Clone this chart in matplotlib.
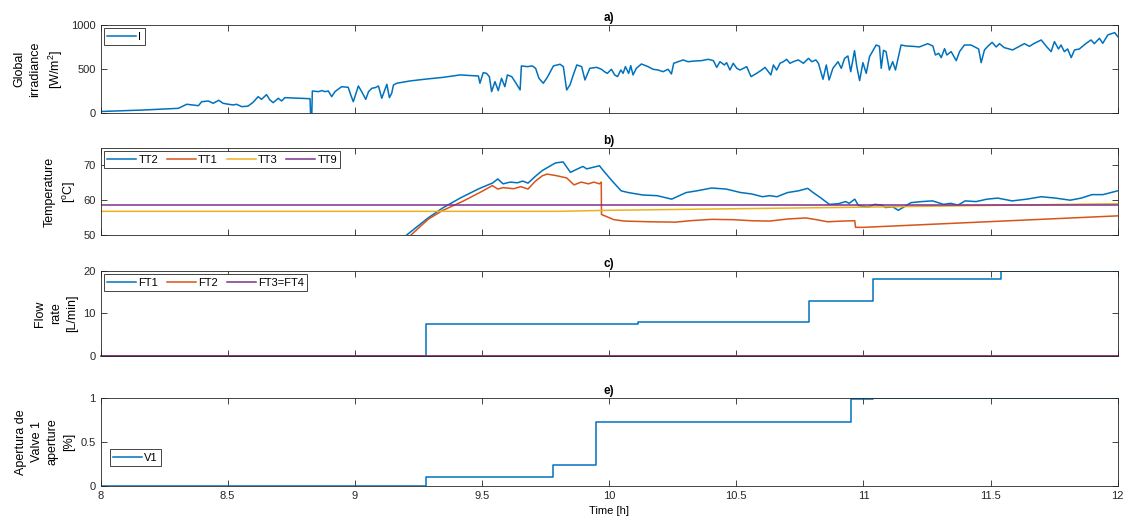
import numpy as np
import matplotlib
matplotlib.use('Agg')
import matplotlib.pyplot as plt

plt.rcParams['font.family'] = ['Liberation Sans', 'DejaVu Sans']
plt.rcParams['font.size'] = 8
plt.rcParams['mathtext.default'] = 'regular'

# colores por defecto de MATLAB
c_blue = '#0072BD'
c_orange = '#D95319'
c_yellow = '#EDB120'
c_purple = '#7E2F8E'

# a) irradiancia global
I_t = [8.000, 8.170, 8.306, 8.339, 8.385, 8.398, 8.424, 8.443, 8.465, 8.482,
       8.503, 8.522, 8.535, 8.555, 8.580, 8.600, 8.620, 8.633, 8.653, 8.666,
       8.679, 8.699, 8.712, 8.725, 8.824, 8.826, 8.831, 8.833, 8.857, 8.870,
       8.883, 8.896, 8.909, 8.922, 8.948, 8.974, 8.985, 8.994, 9.014, 9.027,
       9.043, 9.054, 9.067, 9.080, 9.093, 9.106, 9.119, 9.126, 9.136, 9.145,
       9.152, 9.165, 9.217, 9.283, 9.348, 9.414, 9.486, 9.492, 9.505, 9.518,
       9.529, 9.538, 9.551, 9.564, 9.577, 9.590, 9.600, 9.617, 9.630, 9.650,
       9.655, 9.679, 9.698, 9.711, 9.724, 9.741, 9.757, 9.781, 9.807, 9.820,
       9.833, 9.846, 9.859, 9.873, 9.892, 9.905, 9.924, 9.951, 9.970, 9.982,
       9.993, 10.009, 10.022, 10.033, 10.046, 10.055, 10.064, 10.077, 10.085, 10.094,
       10.107, 10.127, 10.153, 10.173, 10.192, 10.212, 10.232, 10.245, 10.254, 10.271,
       10.291, 10.310, 10.337, 10.363, 10.390, 10.410, 10.423, 10.436, 10.453, 10.462,
       10.475, 10.488, 10.502, 10.515, 10.528, 10.541, 10.558, 10.580, 10.600, 10.613,
       10.636, 10.646, 10.659, 10.672, 10.685, 10.698, 10.711, 10.724, 10.744, 10.764,
       10.784, 10.797, 10.813, 10.823, 10.841, 10.854, 10.865, 10.880, 10.900, 10.913,
       10.926, 10.939, 10.950, 10.965, 10.974, 10.985, 10.998, 11.011, 11.024, 11.050,
       11.063, 11.070, 11.079, 11.089, 11.102, 11.115, 11.126, 11.139, 11.148, 11.168,
       11.194, 11.220, 11.253, 11.273, 11.283, 11.296, 11.306, 11.319, 11.328, 11.345,
       11.365, 11.378, 11.397, 11.423, 11.453, 11.463, 11.476, 11.489, 11.506, 11.522,
       11.535, 11.554, 11.587, 11.613, 11.633, 11.653, 11.672, 11.699, 11.718, 11.738,
       11.751, 11.767, 11.777, 11.790, 11.803, 11.817, 11.830, 11.849, 11.876, 11.895,
       11.908, 11.928, 11.941, 11.961, 11.988, 12.000]
I_val = [20, 37, 56, 102, 86, 131, 139, 113, 147, 113,
         102, 94, 102, 75, 81, 124, 188, 158, 211, 151,
         120, 170, 139, 177, 165, 0, 0, 252, 245, 257,
         245, 252, 188, 245, 301, 294, 200, 131, 309, 245,
         158, 245, 283, 290, 309, 170, 272, 328, 177, 226,
         320, 340, 366, 388, 407, 434, 422, 340, 460, 452,
         415, 245, 358, 257, 396, 301, 434, 415, 358, 264,
         536, 528, 536, 509, 396, 340, 407, 536, 555, 528,
         264, 320, 434, 547, 528, 377, 509, 520, 498, 470,
         452, 498, 434, 415, 490, 452, 528, 452, 539, 434,
         509, 558, 528, 498, 490, 471, 498, 445, 566, 584,
         604, 584, 592, 596, 611, 596, 520, 584, 547, 573,
         490, 566, 509, 490, 509, 528, 415, 452, 490, 520,
         434, 547, 490, 566, 584, 611, 566, 584, 604, 566,
         622, 584, 604, 566, 385, 547, 377, 509, 584, 509,
         622, 649, 471, 709, 528, 370, 573, 452, 641, 773,
         758, 509, 713, 698, 490, 584, 490, 660, 773, 762,
         758, 751, 788, 762, 660, 679, 630, 732, 660, 698,
         596, 698, 773, 773, 728, 573, 717, 758, 803, 751,
         788, 743, 717, 758, 788, 758, 792, 830, 762, 698,
         811, 728, 773, 698, 728, 630, 717, 728, 792, 830,
         788, 849, 792, 887, 913, 868]

# b) temperaturas
TT2_t = [9.190, 9.204, 9.288, 9.344, 9.414, 9.485, 9.527, 9.541, 9.562, 9.583,
         9.611, 9.639, 9.660, 9.681, 9.709, 9.737, 9.765, 9.789, 9.819, 9.848,
         9.876, 9.897, 9.912, 9.940, 9.962, 9.976, 10.011, 10.047, 10.075, 10.132,
         10.189, 10.246, 10.303, 10.346, 10.403, 10.460, 10.517, 10.560, 10.603, 10.631,
         10.660, 10.702, 10.745, 10.781, 10.802, 10.830, 10.866, 10.902, 10.930, 10.944,
         10.966, 10.980, 11.016, 11.044, 11.073, 11.087, 11.115, 11.137, 11.158, 11.187,
         11.229, 11.272, 11.315, 11.343, 11.372, 11.400, 11.443, 11.486, 11.528, 11.585,
         11.642, 11.699, 11.756, 11.813, 11.856, 11.899, 11.942, 12.000]
TT2 = [49.0, 50.0, 54.9, 57.7, 60.6, 63.2, 64.5, 64.9, 66.1, 64.7,
       65.2, 65.0, 65.5, 64.9, 66.8, 68.5, 69.7, 70.7, 71.0, 68.0,
       69.0, 69.7, 69.0, 69.5, 69.9, 68.6, 65.6, 62.7, 62.2, 61.5,
       61.3, 60.3, 62.2, 62.7, 63.5, 63.2, 62.2, 61.8, 61.0, 61.3,
       61.0, 62.2, 62.7, 63.4, 62.2, 60.8, 58.8, 59.0, 59.6, 59.1,
       60.3, 58.5, 58.0, 58.8, 58.6, 57.9, 58.1, 57.1, 58.0, 59.3,
       59.6, 59.8, 58.8, 59.1, 58.6, 59.8, 59.6, 60.3, 60.6, 59.8,
       60.3, 61.0, 60.6, 60.0, 60.6, 61.6, 61.6, 62.7]
TT1_t = [9.205, 9.218, 9.288, 9.344, 9.428, 9.499, 9.541, 9.562, 9.583, 9.625,
         9.653, 9.681, 9.709, 9.737, 9.756, 9.789, 9.833, 9.862, 9.890, 9.919,
         9.940, 9.962, 9.969, 9.970, 10.019, 10.061, 10.161, 10.261, 10.318, 10.403,
         10.489, 10.560, 10.631, 10.702, 10.774, 10.816, 10.859, 10.916, 10.966, 10.969,
         11.001, 12.000]
TT1 = [49.0, 49.8, 54.5, 57.0, 59.8, 62.5, 64.2, 63.2, 63.6, 63.3,
       63.9, 63.2, 65.4, 67.0, 67.5, 67.1, 66.4, 64.4, 65.2, 64.7,
       65.2, 64.7, 65.2, 55.9, 54.4, 54.0, 53.8, 53.7, 54.1, 54.5,
       54.4, 54.1, 54.0, 54.6, 54.9, 54.4, 53.8, 54.0, 54.1, 52.2,
       52.2, 55.5]
TT3_t = [8.0, 9.8, 10.0, 11.0, 12.0]
TT3 = [56.8, 56.8, 57.1, 58.0, 59.0]
TT9_t = [8.0, 12.0]
TT9 = [58.5, 58.5]

# c) caudales
FT1_t = [8.0, 9.28, 10.115, 10.785, 11.037, 11.54, 12.0]
FT1 = [0.0, 7.45, 8.0, 12.9, 18.0, 20.0, 20.0]
FT2_t = [8.0, 12.0]
FT2 = [0.0, 0.0]
FT34_t = [8.0, 12.0]
FT34 = [0.0, 0.0]

# e) apertura valvula
V1_t = [8.0, 9.28, 9.78, 9.949, 10.953, 11.037, 12.0]
V1 = [0.0, 0.1, 0.233, 0.73, 0.99, 1.0, 1.0]

fig = plt.figure(figsize=(11.28, 5.22), dpi=100)
left = 0.0891
width = 0.9018
ax_a = fig.add_axes([left, 0.7830, width, 0.1692])
ax_b = fig.add_axes([left, 0.5498, width, 0.1667])
ax_c = fig.add_axes([left, 0.318, width, 0.163])
ax_e = fig.add_axes([left, 0.069, width, 0.1686])
axes = [ax_a, ax_b, ax_c, ax_e]

lw = 1.1
ls = 1.45  # interlineado de las etiquetas
yl = 9     # tamaño de las etiquetas del eje y

ax_a.plot(I_t, I_val, color=c_blue, lw=lw, label='I')
ax_a.set_ylim(0, 1000)
ax_a.set_yticks([0, 500, 1000])
ax_a.set_ylabel('Global\nirradiance\n[W/m$^2$]', linespacing=ls, fontsize=yl)
ax_a.set_title('a)', fontweight='bold', fontsize=8.5, pad=3)

ax_b.plot(TT2_t, TT2, color=c_blue, lw=lw, label='TT2')
ax_b.plot(TT1_t, TT1, color=c_orange, lw=lw, label='TT1')
ax_b.plot(TT3_t, TT3, color=c_yellow, lw=lw, label='TT3')
ax_b.plot(TT9_t, TT9, color=c_purple, lw=lw, label='TT9')
ax_b.set_ylim(50, 75)
ax_b.set_yticks([50, 60, 70])
ax_b.set_ylabel('Temperature\n[$^o$C]', linespacing=ls, fontsize=yl)
ax_b.set_title('b)', fontweight='bold', fontsize=8.5, pad=3)

ax_c.plot(FT1_t, FT1, color=c_blue, lw=lw, drawstyle='steps-post', label='FT1')
ax_c.plot(FT2_t, FT2, color=c_orange, lw=lw, label='FT2', clip_on=False)
ax_c.plot(FT34_t, FT34, color=c_purple, lw=lw, label='FT3=FT4', clip_on=False)
ax_c.set_ylim(0, 20)
ax_c.set_yticks([0, 10, 20])
ax_c.set_ylabel('Flow\nrate\n[L/min]', linespacing=ls, fontsize=yl)
ax_c.set_title('c)', fontweight='bold', fontsize=8.5, pad=3)

ax_e.plot(V1_t, V1, color=c_blue, lw=lw, drawstyle='steps-post', label='V1')
ax_e.set_ylim(0, 1)
ax_e.set_yticks([0, 0.5, 1])
ax_e.set_yticklabels(['0', '0.5', '1'])
ax_e.set_ylabel('Apertura de\nValve 1\naperture\n[%]', linespacing=ls, fontsize=yl)
ax_e.set_title('e)', fontweight='bold', fontsize=8.5, pad=3)
ax_e.set_xlabel('Time [h]')

xt = np.arange(8, 12.01, 0.5)
for ax in axes:
    ax.set_xlim(8, 12)
    ax.set_xticks(xt)
    ax.tick_params(direction='in', length=4, width=0.6, top=True, right=True,
                   colors='#262626', labelcolor='#262626', labelsize=8)
    for s in ax.spines.values():
        s.set_linewidth(0.6)
        s.set_color('#262626')
    if ax is not ax_e:
        ax.set_xticklabels([])
ax_e.set_xticklabels(['8', '8.5', '9', '9.5', '10', '10.5', '11', '11.5', '12'])

leg_kw = dict(fancybox=False, framealpha=1, edgecolor='#262626', fontsize=8,
              handlelength=2.6, handletextpad=0.2, borderpad=0.3, borderaxespad=0.3)
for leg in [ax_a.legend(loc='upper left', **leg_kw),
            ax_b.legend(loc='upper left', ncol=4, columnspacing=0.8, **leg_kw),
            ax_c.legend(loc='upper left', ncol=3, columnspacing=0.8, **leg_kw),
            ax_e.legend(loc='lower left', bbox_to_anchor=(0.006, 0.19), **leg_kw)]:
    leg.get_frame().set_linewidth(0.6)

fig.savefig('out.png', dpi=100)
